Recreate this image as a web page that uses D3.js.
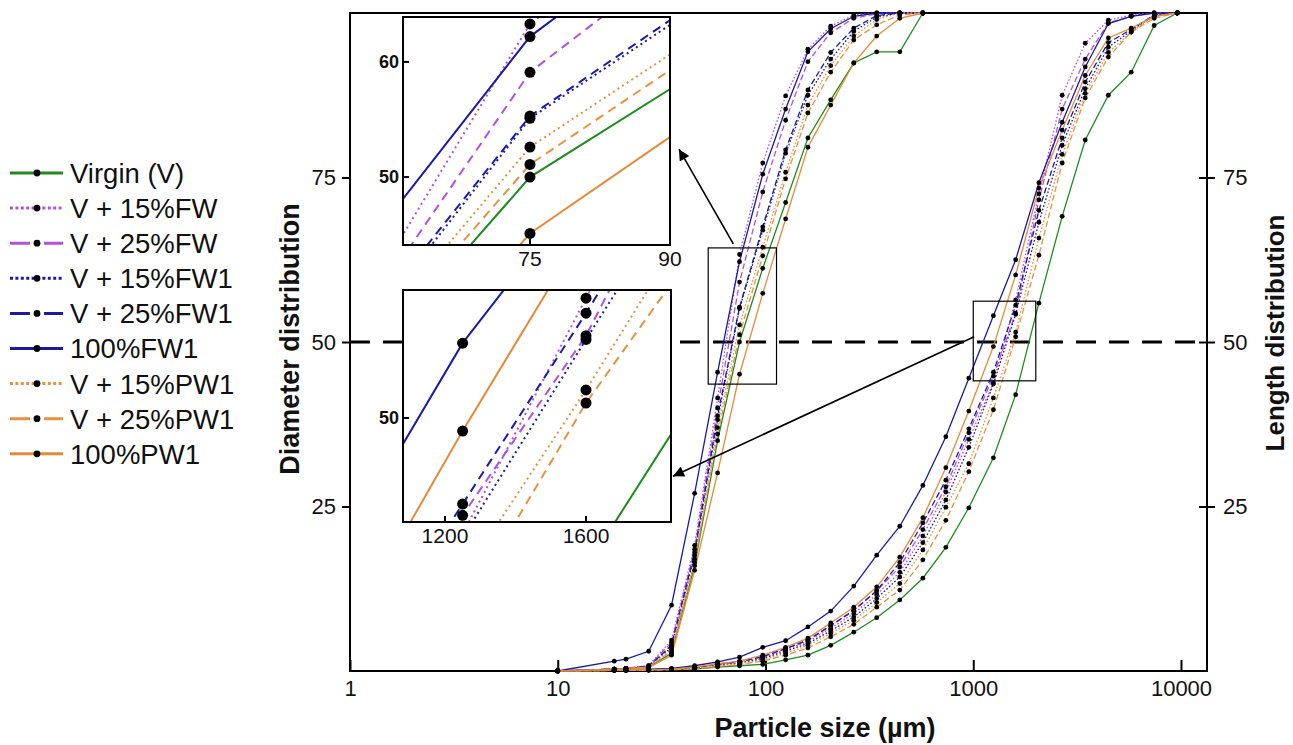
<!DOCTYPE html>
<html>
<head>
<meta charset="utf-8">
<script src="https://cdn.jsdelivr.net/npm/d3@7"></script>
<style>
  html, body { margin: 0; padding: 0; background: #fff; }
  svg { display: block; font-family: "Liberation Sans", Arial, sans-serif; }
</style>
</head>
<body>
<svg id="chart" width="1293" height="745"></svg>
<script>
// ---- size classes (µm) ----
const diameterSizes = [10, 18.7, 21.3, 27.4, 35.3, 45.6, 58.8, 75, 97, 125, 160, 206, 266, 343, 443, 572];
const lengthSizes = [10, 18.7, 21.3, 27.4, 35.3, 45.6, 58.8, 75, 97, 125, 160, 206, 266, 343, 443, 572,
                     738, 952, 1250, 1600, 2070, 2680, 3460, 4470, 5760, 7430, 9590];

// ---- series labels ----
const seriesNames = ["Virgin (V)", "V + 15%FW", "V + 25%FW", "V + 15%FW1", "V + 25%FW1",
                     "100%FW1", "V + 15%PW1", "V + 25%PW1", "100%PW1"];

// ---- cumulative diameter distribution (%) ----
const diamVirgin  = [0, 0.3, 0.4, 0.6, 2.7, 16.0, 35.0, 50.0, 61.2, 71.2, 81.0, 86.8, 92.4, 94.1, 94.1, 100];
const diamV15FW   = [0, 0.3, 0.4, 0.8, 4.7, 19.1, 41.5, 63.3, 77.2, 87.4, 94.5, 98.0, 99.7, 100, 100, 100];
const diamV25FW   = [0, 0.3, 0.4, 0.8, 4.3, 18.5, 40.0, 59.1, 72.8, 83.7, 92.6, 97.0, 99.2, 99.9, 100, 100];
const diamV15FW1  = [0, 0.3, 0.4, 0.7, 3.6, 17.6, 38.2, 55.1, 67.0, 78.7, 87.5, 93.0, 97.2, 99.4, 100, 100];
const diamV25FW1  = [0, 0.3, 0.4, 0.7, 3.9, 18.0, 38.8, 55.3, 67.5, 79.2, 88.3, 94.0, 97.7, 99.6, 100, 100];
const diam100FW1  = [0, 1.5, 1.8, 3.0, 10.0, 27.0, 45.4, 62.2, 75.5, 85.4, 94.1, 97.6, 99.5, 100, 100, 100];
const diamV15PW1  = [0, 0.3, 0.4, 0.6, 3.3, 17.0, 37.0, 52.6, 64.4, 75.8, 86.0, 92.0, 96.5, 99.0, 100, 100];
const diamV25PW1  = [0, 0.3, 0.4, 0.6, 3.0, 16.5, 36.0, 51.1, 63.1, 74.8, 84.8, 91.0, 95.9, 98.2, 99.7, 100];
const diam100PW1  = [0, 0.2, 0.3, 0.5, 2.4, 15.3, 30.1, 45.1, 57.4, 68.7, 79.6, 86.0, 92.4, 96.5, 99.2, 100];

// ---- cumulative length distribution (%) ----
const lenVirgin   = [0, 0.1, 0.1, 0.1, 0.2, 0.3, 0.6, 0.8, 1.0, 1.7, 2.4, 3.9, 5.9, 8.1, 10.8, 14.1, 18.8, 24.8, 32.4, 42.0, 55.9, 69.1, 80.7, 87.5, 91.0, 98.1, 100];
const lenV15FW    = [0, 0.1, 0.1, 0.2, 0.3, 0.5, 1.0, 1.3, 2.0, 3.2, 4.5, 6.5, 8.7, 11.6, 15.0, 20.5, 27.2, 35.2, 43.8, 56.4, 72.5, 87.5, 95.4, 98.9, 99.7, 100, 100];
const lenV25FW    = [0, 0.1, 0.1, 0.2, 0.3, 0.5, 1.0, 1.4, 2.2, 3.4, 4.7, 6.9, 9.2, 12.2, 15.8, 21.5, 28.0, 36.2, 44.8, 54.4, 71.6, 85.4, 93.0, 98.5, 99.5, 100, 100];
const lenV15FW1   = [0, 0.1, 0.1, 0.2, 0.3, 0.4, 0.9, 1.2, 1.9, 3.0, 4.2, 6.1, 8.2, 11.0, 14.3, 19.5, 26.0, 34.0, 43.6, 54.2, 68.2, 79.9, 88.5, 94.8, 97.3, 99.7, 100];
const lenV25FW1   = [0, 0.1, 0.2, 0.2, 0.3, 0.5, 1.1, 1.4, 2.2, 3.4, 4.7, 6.9, 9.2, 12.2, 16.5, 22.5, 29.0, 36.8, 45.4, 55.6, 70.0, 81.0, 89.5, 95.5, 97.5, 99.7, 100];
const len100FW1   = [0, 0.2, 0.3, 0.3, 0.4, 0.8, 1.4, 2.1, 3.6, 4.6, 6.7, 9.1, 12.9, 17.6, 22.0, 28.2, 35.6, 44.5, 54.0, 62.5, 74.2, 83.4, 91.8, 98.4, 99.5, 100, 100];
const lenV15PW1   = [0, 0.1, 0.1, 0.2, 0.2, 0.4, 0.8, 1.1, 1.7, 2.7, 3.9, 5.7, 7.7, 10.4, 13.3, 18.4, 24.9, 31.5, 41.5, 51.5, 65.8, 78.5, 87.8, 94.0, 97.1, 99.5, 100];
const lenV25PW1   = [0, 0.1, 0.1, 0.1, 0.2, 0.3, 0.7, 1.0, 1.5, 2.4, 3.5, 5.2, 7.1, 9.7, 12.3, 16.9, 22.9, 30.3, 39.7, 50.8, 63.2, 77.2, 87.1, 93.3, 97.1, 99.2, 100];
const len100PW1   = [0, 0.1, 0.2, 0.2, 0.3, 0.6, 1.1, 1.5, 2.4, 3.6, 5.0, 7.3, 9.7, 12.8, 17.3, 23.3, 30.9, 39.5, 49.3, 60.2, 73.4, 82.2, 90.5, 96.2, 97.7, 99.5, 100];

// ---- ticks ----
const xTickValues = [1, 10, 100, 1000, 10000];
const yTickValues = [25, 50, 75];
const inset1XTicks = [75, 90];
const inset1YTicks = [50, 60];
const inset2XTicks = [1200, 1600];
const inset2YTicks = [50];

// ---- styling ----
const seriesColors = ["#1e8c1e", "#b450e0", "#b450e0", "#1a1aa6", "#1a1aa6", "#1a1aa6", "#e8913e", "#e8913e", "#e68a38"];
const seriesStyles = ["solid", "dot", "dash", "dot", "dash", "solid", "dot", "dash", "solid"];
const dashMain   = { solid: null, dot: "1.6,2", dash: "6,3" };
const dashLegend = { solid: null, dot: "3,2.4", dash: "20,14" };
const dashInset  = { solid: null, dot: "2,3.5", dash: "9,6" };

const diamValues = [diamVirgin, diamV15FW, diamV25FW, diamV15FW1, diamV25FW1, diam100FW1, diamV15PW1, diamV25PW1, diam100PW1];
const lenValues  = [lenVirgin, lenV15FW, lenV25FW, lenV15FW1, lenV25FW1, len100FW1, lenV15PW1, lenV25PW1, len100PW1];

const series = seriesNames.map((name, i) => ({
  name, color: seriesColors[i], style: seriesStyles[i],
  diameter: diameterSizes.map((s, k) => ({ size: s, value: diamValues[i][k] })),
  length: lengthSizes.map((s, k) => ({ size: s, value: lenValues[i][k] }))
}));

const svg = d3.select("#chart");
const plot = { left: 350, right: 1207, top: 13, bottom: 671 };

const x = d3.scaleLog().domain([1, 13340]).range([plot.left, plot.right]);
const y = d3.scaleLinear().domain([0, 100]).range([plot.bottom, plot.top]);

const defs = svg.append("defs");
defs.append("marker")
  .attr("id", "arrowHead").attr("viewBox", "0 0 10 10")
  .attr("refX", 10).attr("refY", 5)
  .attr("markerWidth", 15).attr("markerHeight", 11)
  .attr("markerUnits", "userSpaceOnUse").attr("orient", "auto")
  .append("path").attr("d", "M0,0 L10,5 L0,10 Z").attr("fill", "#000");

// ---- 50 % reference line ----
svg.append("line")
  .attr("x1", plot.left).attr("x2", plot.right)
  .attr("y1", y(50)).attr("y2", y(50))
  .attr("stroke", "#000").attr("stroke-width", 3)
  .attr("stroke-dasharray", "20,13");

// ---- axes ----
const axisFont = 22;
const gx = svg.append("g").attr("transform", `translate(0,${plot.bottom})`)
  .call(d3.axisBottom(x).tickValues(xTickValues).tickFormat(d3.format("d"))
        .tickSizeInner(-11).tickSizeOuter(0).tickPadding(9));
const gyl = svg.append("g").attr("transform", `translate(${plot.left},0)`)
  .call(d3.axisLeft(y).tickValues(yTickValues).tickSizeInner(8).tickSizeOuter(0).tickPadding(6));
const gyr = svg.append("g").attr("transform", `translate(${plot.right},0)`)
  .call(d3.axisRight(y).tickValues(yTickValues).tickSizeInner(8).tickSizeOuter(0).tickPadding(8));
gyr.selectAll(".tick line").attr("x1", -8);
[gx, gyl, gyr].forEach(g => {
  g.select(".domain").remove();
  g.selectAll(".tick line").attr("stroke", "#000").attr("stroke-width", 2);
  g.selectAll(".tick text").attr("font-size", axisFont).attr("fill", "#111")
    .attr("font-family", "Liberation Sans, Arial, sans-serif");
});

svg.append("rect")
  .attr("x", plot.left).attr("y", plot.top)
  .attr("width", plot.right - plot.left).attr("height", plot.bottom - plot.top)
  .attr("fill", "none").attr("stroke", "#000").attr("stroke-width", 2);

// ---- axis titles ----
svg.append("text").attr("x", 825).attr("y", 737)
  .attr("text-anchor", "middle").attr("font-size", 27).attr("font-weight", "bold")
  .attr("fill", "#111").text("Particle size (µm)");
svg.append("text").attr("transform", `translate(299,339) rotate(-90)`)
  .attr("text-anchor", "middle").attr("font-size", 27).attr("font-weight", "bold")
  .attr("fill", "#111").text("Diameter distribution");
svg.append("text").attr("transform", `translate(1284,333) rotate(-90)`)
  .attr("text-anchor", "middle").attr("font-size", 26).attr("font-weight", "bold")
  .attr("fill", "#111").text("Length  distribution");

// ---- curves ----
const lineMain = d3.line().x(d => x(d.size)).y(d => y(d.value));
const curves = svg.append("g");
["length", "diameter"].forEach(key => {
  series.forEach(s => {
    curves.append("path").datum(s[key])
      .attr("d", lineMain).attr("fill", "none")
      .attr("stroke", s.color).attr("stroke-width", 1.3)
      .attr("stroke-dasharray", dashMain[s.style]);
  });
});
["length", "diameter"].forEach(key => {
  series.forEach(s => {
    curves.selectAll(null).data(s[key]).enter().append("circle")
      .attr("cx", d => x(d.size)).attr("cy", d => y(d.value))
      .attr("r", 2.4).attr("fill", "#000");
  });
});

// ---- zoom boxes ----
const box1 = { x0: 53, x1: 113, y0: 43.6, y1: 64.3 };
const box2 = { x0: 1000, x1: 2000, y0: 44.1, y1: 56.2 };
[box1, box2].forEach(b => {
  svg.append("rect")
    .attr("x", x(b.x0)).attr("y", y(b.y1))
    .attr("width", x(b.x1) - x(b.x0)).attr("height", y(b.y0) - y(b.y1))
    .attr("fill", "none").attr("stroke", "#000").attr("stroke-width", 1.2);
});

// ---- inset panels ----
function drawInset(cfg) {
  const g = svg.append("g");
  const xi = d3.scaleLinear().domain(cfg.xDomain).range([cfg.left, cfg.right]);
  const yi = d3.scaleLinear().domain(cfg.yDomain).range([cfg.bottom, cfg.top]);
  g.append("rect").attr("x", cfg.left).attr("y", cfg.top)
    .attr("width", cfg.right - cfg.left).attr("height", cfg.bottom - cfg.top)
    .attr("fill", "#fff");
  defs.append("clipPath").attr("id", cfg.id).append("rect")
    .attr("x", cfg.left).attr("y", cfg.top)
    .attr("width", cfg.right - cfg.left).attr("height", cfg.bottom - cfg.top);
  const inner = g.append("g").attr("clip-path", `url(#${cfg.id})`);
  const li = d3.line().x(d => xi(d.size)).y(d => yi(d.value));
  series.forEach(s => {
    inner.append("path").datum(s[cfg.key]).attr("d", li).attr("fill", "none")
      .attr("stroke", s.color).attr("stroke-width", 2)
      .attr("stroke-dasharray", dashInset[s.style]);
  });
  series.forEach(s => {
    inner.selectAll(null)
      .data(s[cfg.key].filter(d => d.size >= cfg.xDomain[0] && d.size <= cfg.xDomain[1]))
      .enter().append("circle")
      .attr("cx", d => xi(d.size)).attr("cy", d => yi(d.value))
      .attr("r", 5.5).attr("fill", "#000");
  });
  g.append("rect").attr("x", cfg.left).attr("y", cfg.top)
    .attr("width", cfg.right - cfg.left).attr("height", cfg.bottom - cfg.top)
    .attr("fill", "none").attr("stroke", "#000").attr("stroke-width", 2);
  cfg.xTicks.forEach(t => {
    g.append("line").attr("x1", xi(t)).attr("x2", xi(t))
      .attr("y1", cfg.bottom).attr("y2", cfg.bottom - 6)
      .attr("stroke", "#000").attr("stroke-width", 2);
    g.append("text").attr("x", xi(t)).attr("y", cfg.bottom + 21)
      .attr("text-anchor", "middle").attr("font-size", 21).attr("fill", "#111").text(t);
  });
  cfg.yTicks.forEach(t => {
    g.append("line").attr("x1", cfg.left).attr("x2", cfg.left + 6)
      .attr("y1", yi(t)).attr("y2", yi(t))
      .attr("stroke", "#000").attr("stroke-width", 2);
    g.append("text").attr("x", cfg.left - 4).attr("y", yi(t)).attr("dy", "0.35em")
      .attr("text-anchor", "end").attr("font-size", 18).attr("font-weight", "bold")
      .attr("fill", "#111").text(t);
  });
  return { xi, yi };
}

const inset1 = { id: "clipInset1", key: "diameter", left: 403, right: 670, top: 17, bottom: 245,
                 xDomain: [61.4, 90], yDomain: [44.1, 63.9], xTicks: inset1XTicks, yTicks: inset1YTicks };
const inset2 = { id: "clipInset2", key: "length", left: 403, right: 671, top: 290, bottom: 522,
                 xDomain: [1081, 1841], yDomain: [44.44, 56.84], xTicks: inset2XTicks, yTicks: inset2YTicks };
drawInset(inset1);
drawInset(inset2);

// ---- arrows from zoom boxes to inset panels ----
svg.append("line")
  .attr("x1", x(70)).attr("y1", y(box1.y1) - 4)
  .attr("x2", inset1.right + 9).attr("y2", y(79.3))
  .attr("stroke", "#000").attr("stroke-width", 1.6).attr("marker-end", "url(#arrowHead)");
svg.append("line")
  .attr("x1", x(1010)).attr("y1", y(50.8))
  .attr("x2", inset2.right + 2).attr("y2", y(29.6))
  .attr("stroke", "#000").attr("stroke-width", 1.6).attr("marker-end", "url(#arrowHead)");

// ---- legend ----
const legend = svg.append("g");
series.forEach((s, i) => {
  const ly = 173 + i * 35.1;
  legend.append("line").attr("x1", 10).attr("x2", 63).attr("y1", ly).attr("y2", ly)
    .attr("stroke", s.color).attr("stroke-width", 3)
    .attr("stroke-dasharray", dashLegend[s.style]);
  legend.append("circle").attr("cx", 37).attr("cy", ly).attr("r", 3.4).attr("fill", "#000");
  legend.append("text").attr("x", 70).attr("y", ly).attr("dy", "0.36em")
    .attr("font-size", 27.5).attr("fill", "#111").text(s.name);
});
</script>
</body>
</html>
